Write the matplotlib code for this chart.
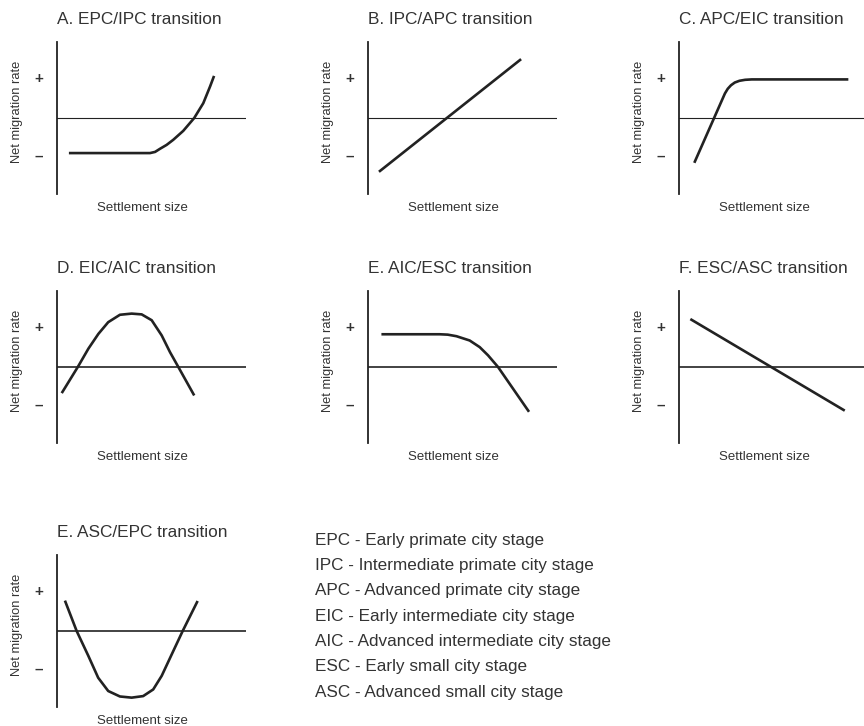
import matplotlib.pyplot as plt

plt.rcParams['font.family'] = ['Liberation Sans', 'DejaVu Sans']

# panel titles, in reading order
titles = ["A. EPC/IPC transition", "B. IPC/APC transition", "C. APC/EIC transition",
          "D. EIC/AIC transition", "E. AIC/ESC transition", "F. ESC/ASC transition",
          "E. ASC/EPC transition"]

# curves (x = settlement size 0..1, y = net migration, +/- at about 1/-1)
xA = [0.063, 0.492, 0.519, 0.545, 0.58, 0.615, 0.668, 0.726, 0.774, 0.810, 0.831]
yA = [-0.90, -0.90, -0.87, -0.79, -0.69, -0.56, -0.33, 0.0, 0.38, 0.81, 1.08]

xB = [0.058, 0.81]
yB = [-1.38, 1.51]

xC = [0.081, 0.243, 0.258, 0.275, 0.295, 0.32, 0.35, 0.385, 0.896]
yC = [-1.15, 0.63, 0.75, 0.84, 0.91, 0.955, 0.98, 0.99, 0.99]

xD = [0.025, 0.110, 0.166, 0.219, 0.271, 0.333, 0.395, 0.448, 0.501, 0.554, 0.598, 0.642, 0.726]
yD = [-0.67, 0.0, 0.47, 0.85, 1.15, 1.34, 1.37, 1.35, 1.20, 0.81, 0.38, 0.0, -0.73]

xE = [0.071, 0.379, 0.422, 0.468, 0.538, 0.591, 0.635, 0.688, 0.852]
yE = [0.84, 0.84, 0.83, 0.79, 0.68, 0.51, 0.30, 0.0, -1.15]

xF = [0.06, 0.877]
yF = [1.23, -1.12]

xG = [0.042, 0.104, 0.166, 0.218, 0.271, 0.333, 0.395, 0.456, 0.509, 0.554, 0.607, 0.665, 0.744]
yG = [0.78, 0.0, -0.64, -1.20, -1.54, -1.68, -1.71, -1.67, -1.50, -1.15, -0.60, 0.0, 0.77]

curves = [(xA, yA), (xB, yB), (xC, yC), (xD, yD), (xE, yE), (xF, yF), (xG, yG)]

legend_lines = ["EPC - Early primate city stage",
                "IPC - Intermediate primate city stage",
                "APC - Advanced primate city stage",
                "EIC - Early intermediate city stage",
                "AIC - Advanced intermediate city stage",
                "ESC - Early small city stage",
                "ASC - Advanced small city stage"]

W, H = 864, 726
fig = plt.figure(figsize=(W / 100, H / 100), dpi=100)

ink = "#222222"
txt = "#333333"

# panel positions in pixels: (left, top); axes are 189 x 152 px
lefts = [57, 368, 679, 57, 368, 679, 57]
tops = [42, 42, 42, 291, 291, 291, 555]
zero_lw = [0.8, 0.8, 0.8, 1.2, 1.2, 1.2, 1.2]


def panel_axes(left, top, width=189, height=152):
    return fig.add_axes([left / W, 1 - (top + height) / H, width / W, height / H])


for i, (x, y) in enumerate(curves):
    ax = panel_axes(lefts[i], tops[i])
    ax.set_xlim(0, 1)
    ax.set_ylim(-1.95, 1.95)
    for s in ["top", "right", "bottom"]:
        ax.spines[s].set_visible(False)
    ax.spines["left"].set_linewidth(1.3)
    ax.spines["left"].set_color(ink)
    ax.patch.set_alpha(0)

    ax.axhline(0, color=ink, linewidth=zero_lw[i])
    ax.plot(x, y, color=ink, linewidth=1.9, solid_capstyle="butt",
            solid_joinstyle="round")

    ax.set_xticks([])
    ax.set_yticks([1.05, -0.95], ["+", "\u2013"])
    ax.tick_params(axis="y", length=0, pad=10, labelsize=11, labelcolor=txt)
    for lab in ax.get_yticklabels():
        lab.set_fontweight("bold")

    ax.text(0, 1.145, titles[i], transform=ax.transAxes, ha="left", va="center",
            fontsize=12.4, color=txt)
    ax.text(0.45, -0.09, "Settlement size", transform=ax.transAxes, ha="center",
            va="center", fontsize=9.5, color=txt)
    ax.text(-0.212, 0.54, "Net migration rate", transform=ax.transAxes, ha="center",
            va="center", rotation=90, fontsize=9.3, color=txt)

# stage key
for k, line in enumerate(legend_lines):
    fig.text(315 / W, 1 - (540 + 25.4 * k) / H, line, ha="left", va="center",
             fontsize=12.3, color=txt)

plt.savefig("out.png", dpi=100)
